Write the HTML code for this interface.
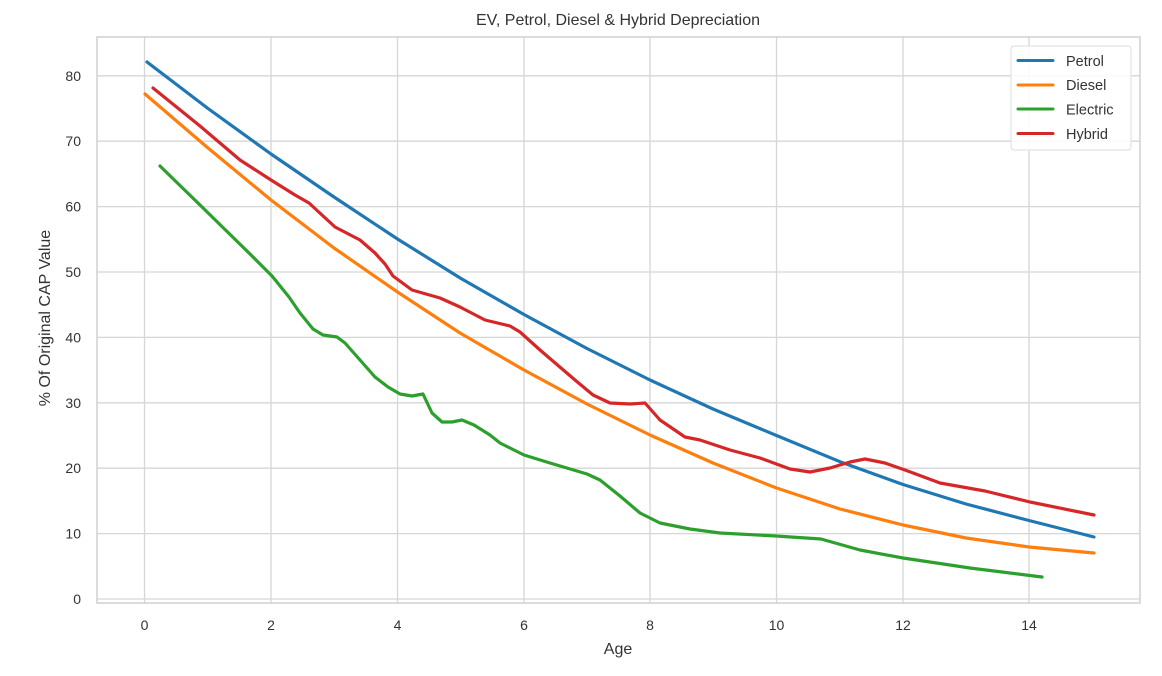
<!DOCTYPE html>
<html><head><meta charset="utf-8"><style>
body{margin:0;background:#fff;}
text{font-family:"Liberation Sans",Arial,sans-serif;fill:#333;}
</style></head><body>
<svg width="1162" height="671" xmlns="http://www.w3.org/2000/svg">
<rect width="1162" height="671" fill="#fff"/>
<g stroke="#d6d6d6" stroke-width="1.3">
<line x1="144.5" y1="37" x2="144.5" y2="603"/>
<line x1="271" y1="37" x2="271" y2="603"/>
<line x1="397.5" y1="37" x2="397.5" y2="603"/>
<line x1="524" y1="37" x2="524" y2="603"/>
<line x1="650" y1="37" x2="650" y2="603"/>
<line x1="776.5" y1="37" x2="776.5" y2="603"/>
<line x1="903" y1="37" x2="903" y2="603"/>
<line x1="1029" y1="37" x2="1029" y2="603"/>
<line x1="97" y1="599" x2="1140" y2="599"/>
<line x1="97" y1="533.6" x2="1140" y2="533.6"/>
<line x1="97" y1="468.2" x2="1140" y2="468.2"/>
<line x1="97" y1="402.8" x2="1140" y2="402.8"/>
<line x1="97" y1="337.4" x2="1140" y2="337.4"/>
<line x1="97" y1="272" x2="1140" y2="272"/>
<line x1="97" y1="206.6" x2="1140" y2="206.6"/>
<line x1="97" y1="141.2" x2="1140" y2="141.2"/>
<line x1="97" y1="75.8" x2="1140" y2="75.8"/>
</g>
<rect x="97" y="37" width="1043" height="566" fill="none" stroke="#d0d0d0" stroke-width="1.5"/>
<g font-size="14" text-anchor="end">
<text x="81" y="604">0</text><text x="81" y="538.6">10</text><text x="81" y="473.2">20</text>
<text x="81" y="407.8">30</text><text x="81" y="342.4">40</text><text x="81" y="277">50</text>
<text x="81" y="211.6">60</text><text x="81" y="146.2">70</text><text x="81" y="80.8">80</text>
</g>
<g font-size="14" text-anchor="middle">
<text x="144.5" y="630">0</text><text x="271" y="630">2</text><text x="397.5" y="630">4</text>
<text x="524" y="630">6</text><text x="650" y="630">8</text><text x="776.5" y="630">10</text>
<text x="903" y="630">12</text><text x="1029" y="630">14</text>
</g>
<text x="618" y="654" font-size="16" text-anchor="middle">Age</text>
<text x="618" y="25" font-size="16" text-anchor="middle">EV, Petrol, Diesel &amp; Hybrid Depreciation</text>
<text transform="translate(50,318) rotate(-90)" font-size="16" text-anchor="middle">% Of Original CAP Value</text>
<g fill="none" stroke-width="3.2" stroke-linejoin="round" stroke-linecap="round">
<polyline stroke="#1f77b4" points="147,62 208,108.5 271,154 334,197 397.5,239 461,278.5 524,314.5 587,348.5 650,380 713,409 776.5,435.5 840,461.7 903,484.5 966,504 1029,520.5 1094,537"/>
<polyline stroke="#ff7f0e" points="145,94 208,148 271,200 334,248 397.5,292 460,333 524,370 587,404 650,435 713,463 776.5,488 840,509 903,525 966,538 1029,547 1094,553"/>
<polyline stroke="#2ca02c" points="160,166 200,205 250,254 272,276 289,297 300,313 313,329 323,335 337,337 345,343 360,360 375,377 388,387 400,394 412,396 423,394 432,413 442,422 452,422 462,420 474,425 490,435 500,443 524,455 550,463 587,474 600,480 620,496 640,513 660,523 690,529 720,533 776,536 821,539 860,550 903,558 970,568 1042,577"/>
<polyline stroke="#d62728" points="153,88 200,126 240,160 271,180 295,195 309,203 322,215 335,227 360,240 375,253 385,264 393,276 412,290 440,298 460,307 485,320 510,326 520,332 540,350 575,380 593,395 610,403 630,404 645,403 660,420 685,437 700,440 730,450 760,458 790,469 810,472 830,468 850,462 865,459 885,463 905,470 940,483 985,491 1030,502 1094,515"/>
</g>
<rect x="1011" y="46" width="120" height="104" rx="3" fill="#fff" fill-opacity="0.85" stroke="#ddd"/>
<g stroke-width="3" stroke-linecap="round">
<line x1="1018" y1="60.5" x2="1053" y2="60.5" stroke="#1f77b4"/>
<line x1="1018" y1="85" x2="1053" y2="85" stroke="#ff7f0e"/>
<line x1="1018" y1="109" x2="1053" y2="109" stroke="#2ca02c"/>
<line x1="1018" y1="133.5" x2="1053" y2="133.5" stroke="#d62728"/>
</g>
<g font-size="14.5">
<text x="1066" y="66">Petrol</text><text x="1066" y="90">Diesel</text>
<text x="1066" y="114.5">Electric</text><text x="1066" y="139">Hybrid</text>
</g>
</svg>
</body></html>
